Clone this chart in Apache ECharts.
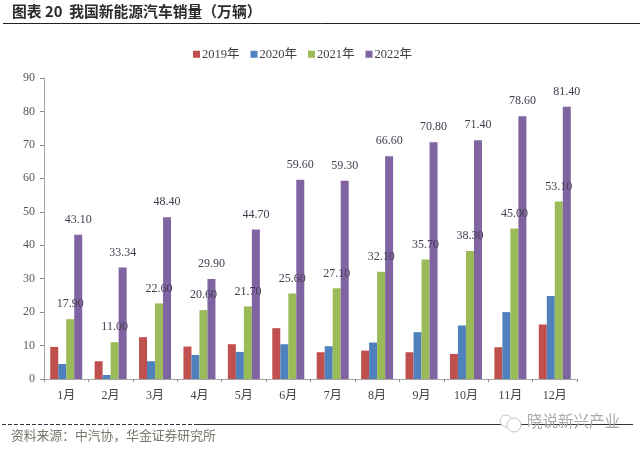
<!DOCTYPE html>
<html>
<head>
<meta charset="utf-8">
<style>
  html, body { margin: 0; padding: 0; background: #fff; }
  #main { width: 640px; height: 450px; }
</style>
</head>
<body>
<div id="main"></div>
<script src="https://cdn.jsdelivr.net/npm/echarts@6/dist/echarts.min.js"></script>
<script>
const months = ['1月', '2月', '3月', '4月', '5月', '6月', '7月', '8月', '9月', '10月', '11月', '12月'];
const sales2019 = [9.6, 5.3, 12.5, 9.7, 10.4, 15.2, 8.0, 8.5, 8.0, 7.5, 9.5, 16.3];
const sales2020 = [4.5, 1.2, 5.3, 7.2, 8.1, 10.4, 9.8, 10.9, 14.0, 16.0, 20.0, 24.8];
const sales2021 = [17.9, 11.0, 22.6, 20.6, 21.7, 25.6, 27.1, 32.1, 35.7, 38.3, 45.0, 53.1];
const sales2022 = [43.1, 33.34, 48.4, 29.9, 44.7, 59.6, 59.3, 66.6, 70.8, 71.4, 78.6, 81.4];

const SERIF = '"Liberation Serif", "Noto Sans CJK SC", serif';
const CJK = '"Noto Sans CJK SC", sans-serif';

function barSeries(name, data, color, showLabel) {
  return {
    name,
    type: 'bar',
    data,
    barWidth: 8,
    barGap: 0,
    itemStyle: { color },
    z: 2,
    label: {
      show: showLabel,
      position: 'top',
      distance: 9,
      formatter: (p) => p.value.toFixed(2),
      fontFamily: SERIF,
      fontSize: 12,
      color: '#3f3f4f',
    },
  };
}

const chart = echarts.init(document.getElementById('main'));
chart.setOption({
  animation: false,
  backgroundColor: '#fff',
  grid: { left: 44, right: 63, top: 78, bottom: 71 },
  legend: {
    top: 43,
    left: 188,
    itemWidth: 7,
    itemHeight: 7,
    itemGap: 11,
    icon: 'rect',
    textStyle: { fontFamily: SERIF, fontSize: 12.5, color: '#404040', padding: [0, 0, 0, -3] },
  },
  xAxis: {
    type: 'category',
    data: months,
    axisLine: { lineStyle: { color: '#a6a6a6', width: 1 } },
    axisTick: { show: true, length: 3, alignWithLabel: false, lineStyle: { color: '#8c8c8c' } },
    axisLabel: { fontFamily: SERIF, fontSize: 12, color: '#404040', margin: 11, interval: 0 },
  },
  yAxis: {
    type: 'value',
    min: 0,
    max: 90,
    interval: 10,
    splitLine: { show: false },
    axisLine: { show: true, lineStyle: { color: '#a6a6a6', width: 1 } },
    axisTick: { show: true, length: 4, lineStyle: { color: '#8c8c8c' } },
    axisLabel: { fontFamily: SERIF, fontSize: 12, color: '#595959', margin: 9 },
  },
  series: [
    barSeries('2019年', sales2019, '#c0504d', false),
    barSeries('2020年', sales2020, '#4f81bd', false),
    barSeries('2021年', sales2021, '#9bbb59', true),
    barSeries('2022年', sales2022, '#8064a2', true),
  ],
  graphic: [
    { type: 'text', left: 12, top: 4, style: { text: '图表 20  我国新能源汽车销量（万辆）', font: 'bold 14.8px ' + CJK, fill: '#2b2b2b' } },
    { type: 'line', shape: { x1: 3, y1: 23.5, x2: 640, y2: 23.5 }, style: { stroke: '#222', lineWidth: 1 } },
    { type: 'line', shape: { x1: 2, y1: 424.5, x2: 195, y2: 424.5 }, style: { stroke: '#333', lineWidth: 1, lineDash: [4, 2] } },
    { type: 'line', shape: { x1: 195, y1: 424.5, x2: 633, y2: 424.5 }, style: { stroke: '#333', lineWidth: 1 } },
    { type: 'text', left: 11, top: 429, style: { text: '资料来源：中汽协，华金证券研究所', font: '12.8px ' + CJK, fill: '#77776a' } },
    { type: 'circle', shape: { cx: 506, cy: 421, r: 6 }, style: { fill: '#fff', stroke: '#c4c4c4', lineWidth: 1 } },
    { type: 'circle', shape: { cx: 514, cy: 425, r: 7 }, style: { fill: '#fff', stroke: '#c4c4c4', lineWidth: 1 } },
    { type: 'text', left: 527, top: 413, style: { text: '晓说新兴产业', font: '15.5px ' + CJK, fill: '#a8a8a8' } },
  ],
});
</script>
</body>
</html>
